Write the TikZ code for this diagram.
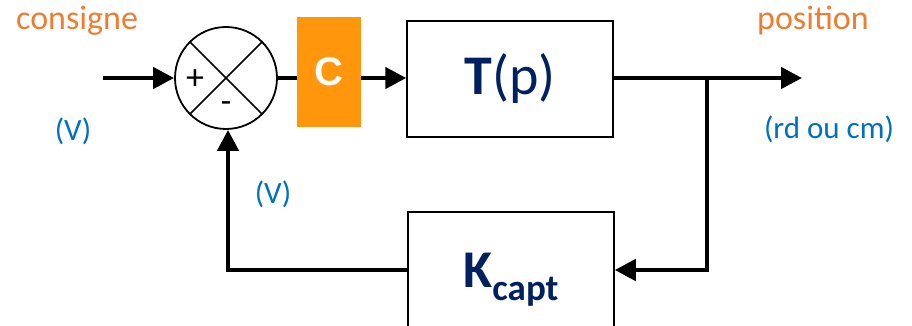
\documentclass[tikz,border=0pt]{standalone}
\usepackage{fontspec}
\setmainfont{Carlito}
\newfontfamily\arialfont{Liberation Sans}
\usetikzlibrary{arrows.meta}
\definecolor{txtorange}{HTML}{ED7D31}
\definecolor{txtblue}{HTML}{0070C0}
\definecolor{navy}{HTML}{002060}
\definecolor{boxorange}{RGB}{255,150,12}
\tikzset{
  sig/.style={line width=4.5pt,-{Triangle[length=21pt,width=21pt]}},
  sigline/.style={line width=4.5pt},
  blockbox/.style={draw,line width=1.5pt,minimum width=206pt,minimum height=116pt,inner sep=0pt,text=navy},
  unitlbl/.style={text=txtblue,font=\fontsize{31}{36}\selectfont,inner sep=0pt},
  signame/.style={text=txtorange,font=\fontsize{34}{40}\selectfont,inner sep=0pt,anchor=base west},
}
\begin{document}
\begin{tikzpicture}[x=1pt,y=-1pt]
\useasboundingbox (0,0) rectangle (912,326);
\clip (0,0) rectangle (912,326);
% nodes
\node[draw,circle,line width=1.8pt,minimum size=102pt,inner sep=0pt] (sum) at (226,78) {};
\draw[line width=1.5pt] (sum.north west) -- (sum.south east);
\draw[line width=1.5pt] (sum.north east) -- (sum.south west);
\node[font=\fontsize{36}{38}\selectfont,inner sep=0pt] (plus) at (195,80) {+};
\node[font=\fontsize{34}{36}\selectfont,inner sep=0pt] (minus) at (226,107) {-};
\node[fill=boxorange,minimum width=64pt,minimum height=110pt,inner sep=0pt,text=white,font=\arialfont\bfseries\fontsize{40}{40}\selectfont] (C) at (329,72) {\raisebox{-4pt}{C}};
\node[blockbox,font=\fontsize{56}{60}\selectfont] (T) at (510,79) {\textbf{T}(p)};
\node[blockbox,font=\bfseries\fontsize{53}{56}\selectfont,text height=34pt,text depth=0pt] (K) at (511,270) {K\raisebox{-13pt}{\fontsize{37}{40}\selectfont capt}};
\coordinate (in) at (103,78);
\coordinate (out) at (802,78);
\coordinate (branch) at (707,78);
% connectors
\draw[sig] (in) -- (sum.west);
\draw[sigline] (sum.east) -- (sum.east -| C.west);
\draw[sig] (C.east |- sum.east) -- (T.west |- sum.east);
\draw[sig] (T.east |- out) -- (out);
\draw[sig] (branch) |- (K.east);
\draw[sig] (K.west) -| ([xshift=2pt]sum.south);
% labels
\node[signame] (consigne) at (16,30) {consigne};
\node[signame] (position) at (757,30) {position};
\node[unitlbl] (vin) at (73,131) {(V)};
\node[unitlbl] (vfb) at (273,194) {(V)};
\node[unitlbl] (unitout) at (829,129) {(rd ou cm)};
\end{tikzpicture}
\end{document}
